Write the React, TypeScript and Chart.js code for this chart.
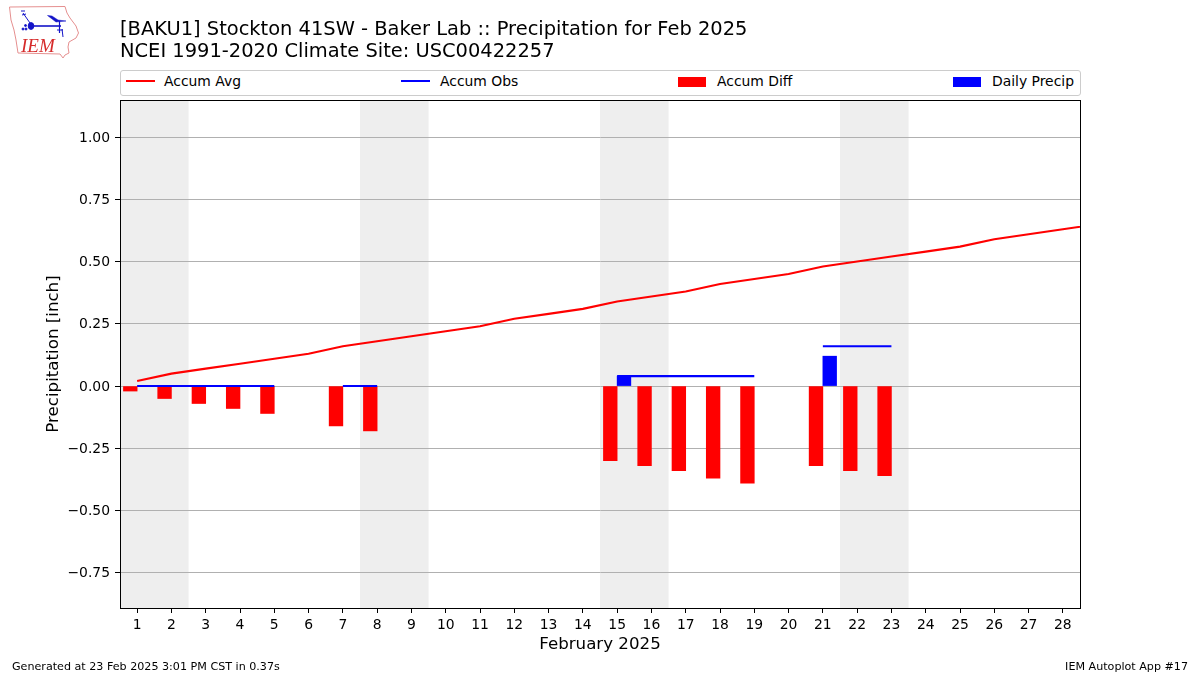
import React, { useEffect, useRef } from "react";
import { Chart, registerables } from "chart.js";

Chart.register(...registerables);

const FONT = "'DejaVu Sans', sans-serif";

const titleLines = [
  "[BAKU1] Stockton 41SW - Baker Lab :: Precipitation for Feb 2025",
  "NCEI 1991-2020 Climate Site: USC00422257",
];
const xTitle = "February 2025";
const yTitle = "Precipitation [inch]";
const footerLeft = "Generated at 23 Feb 2025 3:01 PM CST in 0.37s";
const footerRight = "IEM Autoplot App #17";

const dayTicks = [1, 2, 3, 4, 5, 6, 7, 8, 9, 10, 11, 12, 13, 14, 15, 16, 17, 18, 19, 20, 21, 22, 23, 24, 25, 26, 27, 28];
const yTicks = [-0.75, -0.5, -0.25, 0, 0.25, 0.5, 0.75, 1];

// Day 29 (1 March) runs past the axis limit and is clipped, as in the reference.
const avgDays = [1, 2, 3, 4, 5, 6, 7, 8, 9, 10, 11, 12, 13, 14, 15, 16, 17, 18, 19, 20, 21, 22, 23, 24, 25, 26, 27, 28, 29];
const accumAvg = [0.02, 0.05, 0.07, 0.09, 0.11, 0.13, 0.16, 0.18, 0.2, 0.22, 0.24, 0.27, 0.29, 0.31, 0.34, 0.36, 0.38, 0.41, 0.43, 0.45, 0.48, 0.5, 0.52, 0.54, 0.56, 0.59, 0.61, 0.63, 0.65];

const obsDays = [1, 2, 3, 4, 5, 6, 7, 8, 9, 10, 11, 12, 13, 14, 15, 16, 17, 18, 19, 20, 21, 22, 23];
const accumObs = [0, 0, 0, 0, 0, null, 0, 0, null, null, null, null, null, null, 0.04, 0.04, 0.04, 0.04, 0.04, null, 0.16, 0.16, 0.16];

const diffDays = [1, 2, 3, 4, 5, 7, 8, 15, 16, 17, 18, 19, 21, 22, 23];
const accumDiff = [-0.02, -0.05, -0.07, -0.09, -0.11, -0.16, -0.18, -0.3, -0.32, -0.34, -0.37, -0.39, -0.32, -0.34, -0.36];

const precipDays = [15, 21];
const dailyPrecip = [0.04, 0.12];

const weekendBands: [number, number][] = [[0.5, 2.5], [7.5, 9.5], [14.5, 16.5], [21.5, 23.5]];

const bandsAndFrame = {
  id: "bandsAndFrame",
  beforeDraw(chart: any) {
    const { ctx, chartArea: a, scales } = chart;
    ctx.save();
    ctx.fillStyle = "#ffffff";
    ctx.fillRect(0, 0, chart.width, chart.height);
    ctx.fillStyle = "#eeeeee";
    for (const [s, e] of weekendBands) {
      const x0 = scales.x.getPixelForValue(s);
      const x1 = scales.x.getPixelForValue(e);
      ctx.fillRect(x0, a.top, x1 - x0, a.bottom - a.top);
    }
    ctx.restore();
  },
  afterDraw(chart: any) {
    const { ctx, chartArea: a } = chart;
    ctx.save();
    ctx.strokeStyle = "#000000";
    ctx.lineWidth = 1;
    ctx.strokeRect(a.left + 0.5, a.top + 0.5, a.right - a.left, a.bottom - a.top);
    ctx.restore();
  },
};

const abs = (left: number, top: number, extra: React.CSSProperties = {}): React.CSSProperties => ({
  position: "absolute",
  left,
  top,
  fontFamily: FONT,
  whiteSpace: "nowrap",
  color: "#000",
  ...extra,
});

function LineKey({ left, color, label, textLeft }: { left: number; color: string; label: string; textLeft: number }) {
  return (
    <>
      <div style={abs(left, 80, { width: 29, height: 2, background: color })} />
      <div style={abs(textLeft, 73, { fontSize: 13.9, lineHeight: "17px" })}>{label}</div>
    </>
  );
}

function BoxKey({ left, color, label, textLeft }: { left: number; color: string; label: string; textLeft: number }) {
  return (
    <>
      <div style={abs(left, 77, { width: 28, height: 10, background: color })} />
      <div style={abs(textLeft, 73, { fontSize: 13.9, lineHeight: "17px" })}>{label}</div>
    </>
  );
}

function Logo() {
  return (
    <svg width={80} height={60} style={{ position: "absolute", left: 0, top: 0 }}>
      <path
        d="M9.5 7 L65 6.5 L67 13 L70 18 L76 26 L78.5 33 L76 38 L69 42 L68 47 L69 53 L65 55 L63 58 L60 54 L18 53 L16 40 L14 30 L11 20 Z"
        fill="none"
        stroke="#e58f8f"
        strokeWidth={1}
      />
      <g stroke="#1414c8" fill="#1414c8">
        <path d="M31 26 L61 26" strokeWidth={1.6} />
        <ellipse cx={31} cy={26} rx={2.8} ry={3.4} />
        <path d="M47.5 15.5 L52 16 L58 20 L66 21 L56 22 Z" strokeWidth={0.5} />
        <path d="M59.5 21 L59.5 33" strokeWidth={1.2} />
        <path d="M23 13 L30 23 M21 11 L25 11 M22 15 L26 14" strokeWidth={1} fill="none" />
        <path d="M57 30 L63 30 M62 29 L63 37" strokeWidth={1} fill="none" />
        <circle cx={23} cy={29} r={1} />
        <circle cx={25.5} cy={25.5} r={1} />
        <circle cx={26} cy={29} r={1} />
      </g>
      <text x={21} y={52} fontFamily="'Liberation Serif', serif" fontStyle="italic" fontSize={19} fill="#d62b2b">
        IEM
      </text>
    </svg>
  );
}

export default function App() {
  const ref = useRef<HTMLCanvasElement>(null);

  useEffect(() => {
    document.body.style.margin = "0";
    const chart = new Chart(ref.current as HTMLCanvasElement, {
      type: "bar",
      data: {
        datasets: [
          {
            type: "line",
            label: "Accum Avg",
            data: avgDays.map((d, i) => ({ x: d, y: accumAvg[i] })),
            borderColor: "#ff0000",
            borderWidth: 2.08,
            pointRadius: 0,
            order: 2,
          },
          {
            type: "line",
            label: "Accum Obs",
            data: obsDays.map((d, i) => ({ x: d, y: accumObs[i] })),
            borderColor: "#0000ff",
            borderWidth: 2.08,
            pointRadius: 0,
            spanGaps: false,
            order: 1,
          },
          {
            type: "bar",
            label: "Accum Diff",
            data: diffDays.map((d, i) => ({ x: d - 0.2, y: accumDiff[i] })),
            backgroundColor: "#ff0000",
            barThickness: 13.7,
            grouped: false,
            order: 4,
          },
          {
            type: "bar",
            label: "Daily Precip",
            data: precipDays.map((d, i) => ({ x: d + 0.2, y: dailyPrecip[i] })),
            backgroundColor: "#0000ff",
            barThickness: 13.7,
            grouped: false,
            order: 3,
          },
        ] as any,
      },
      options: {
        animation: false,
        responsive: false,
        maintainAspectRatio: false,
        layout: { padding: { top: 100, left: 0, right: 120, bottom: 0 } },
        plugins: { legend: { display: false }, title: { display: false }, tooltip: { enabled: false } },
        scales: {
          x: {
            type: "linear",
            min: 0.5,
            max: 28.5,
            offset: false,
            afterFit: (s: any) => { s.height = 67; },
            afterBuildTicks: (s: any) => { s.ticks = dayTicks.map((value) => ({ value })); },
            border: { display: true, color: "#000", width: 1 },
            grid: { display: true, offset: false, drawOnChartArea: false, drawTicks: true, tickLength: 5, tickColor: "#000", tickWidth: 1 },
            ticks: {
              autoSkip: false,
              maxRotation: 0,
              minRotation: 0,
              padding: 4,
              color: "#000",
              font: { family: FONT, size: 13.9 },
              callback: (v: any) => String(v),
            },
            title: {
              display: true,
              text: xTitle,
              color: "#000",
              font: { family: FONT, size: 16.67 },
              padding: { top: 0, bottom: 20 },
            },
          },
          y: {
            type: "linear",
            min: -0.8912,
            max: 1.1488,
            afterFit: (s: any) => { s.width = 120; },
            afterBuildTicks: (s: any) => { s.ticks = yTicks.map((value) => ({ value })); },
            border: { display: true, color: "#000", width: 1 },
            grid: { display: true, color: "#b0b0b0", lineWidth: 1, drawTicks: true, tickLength: 5, tickColor: "#000", tickWidth: 1 },
            ticks: {
              autoSkip: false,
              padding: 5,
              labelOffset: 1,
              color: "#000",
              font: { family: FONT, size: 13.9 },
              callback: (v: any) => Number(v).toFixed(2).replace("-", "\u2212"),
            },
            title: {
              display: true,
              text: yTitle,
              color: "#000",
              font: { family: FONT, size: 16.67 },
              padding: { top: 44, bottom: 0 },
            },
          },
        },
      } as any,
      plugins: [bandsAndFrame],
    });
    return () => chart.destroy();
  }, []);

  return (
    <div style={{ position: "relative", width: 1200, height: 675, overflow: "hidden", background: "#fff" }}>
      <canvas ref={ref} width={1200} height={675} style={{ display: "block", width: 1200, height: 675 }} />
      <Logo />
      <div style={abs(120, 18, { fontSize: 19.46, lineHeight: "22px" })}>{titleLines[0]}</div>
      <div style={abs(120, 40, { fontSize: 19.46, lineHeight: "22px" })}>{titleLines[1]}</div>
      <div
        style={abs(120, 70, {
          width: 959,
          height: 24,
          border: "1px solid #cccccc",
          borderRadius: 3,
          background: "#fff",
        })}
      />
      <LineKey left={126} color="#ff0000" label="Accum Avg" textLeft={164} />
      <LineKey left={401} color="#0000ff" label="Accum Obs" textLeft={440} />
      <BoxKey left={678} color="#ff0000" label="Accum Diff" textLeft={717} />
      <BoxKey left={953} color="#0000ff" label="Daily Precip" textLeft={992} />
      <div style={abs(12, 660, { fontSize: 11.14, lineHeight: "13px" })}>{footerLeft}</div>
      <div style={abs(0, 660, { left: "auto", right: 12, fontSize: 11.14, lineHeight: "13px" })}>{footerRight}</div>
    </div>
  );
}
